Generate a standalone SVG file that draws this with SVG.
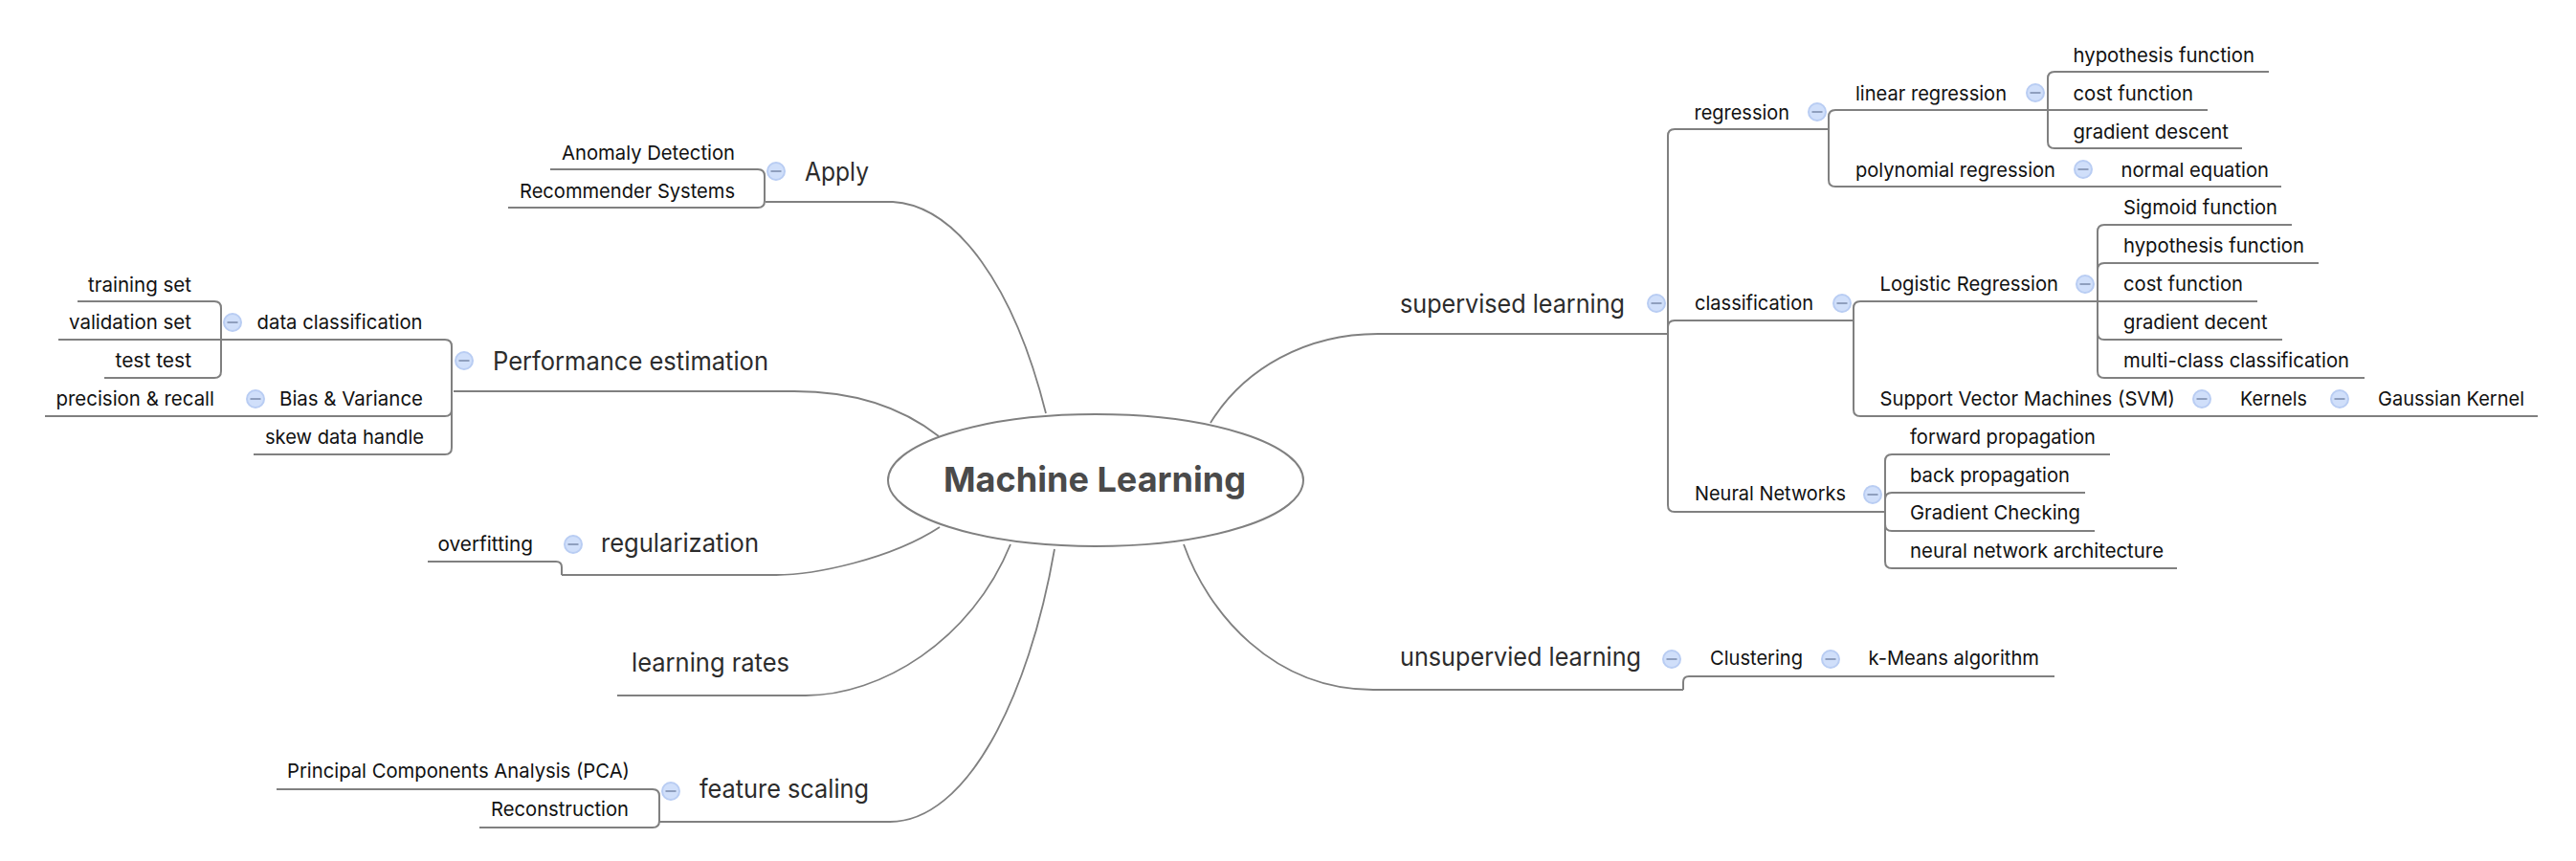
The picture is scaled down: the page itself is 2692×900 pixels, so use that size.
<svg xmlns="http://www.w3.org/2000/svg" width="2692" height="900" viewBox="0 0 2692 900">
<style>
text{font-family:"Inter","Liberation Sans",sans-serif}
.s{font-size:20.500px;fill:#111;transform:translateY(.7px)}
.m{font-size:26.500px;fill:#2c2c2c;transform:translateY(.7px)}
.c{font-size:36px;font-weight:700;fill:#4a4a4a}
.l{fill:none;stroke:#808080;stroke-width:2}
.k{fill:none;stroke:#808080;stroke-width:1.800}
.e{fill:#fff;stroke:#808080;stroke-width:2}
</style>
<defs>
<g id="fold"><circle r="9" fill="#d0dffa" stroke="#b9cdf3" stroke-width="2"/><path d="M-5.500 0H5.500" stroke="#8f9fbe" stroke-width="2"/></g>
</defs>
<g id="connectors">
<path class="k" d="M1093 432C1060 300 1000 215 933 211H800"/>
<path class="k" d="M981 456C935 420 880 409 830 409H474"/>
<path class="k" d="M982 551C930 585 850 601 811 601H587"/>
<path class="k" d="M1056 569C1015 670 920 727 842 727H645"/>
<path class="k" d="M1102 574C1075 730 1010 859 930 859H689"/>
<path class="k" d="M1265 442C1300 385 1365 349 1440 349H1743"/>
<path class="k" d="M1237 569C1262 640 1330 721 1435 721H1759"/>
<path class="l" d="M575 177H792Q799 177 799 184V210Q799 217 792 217H531"/>
<path class="l" d="M81 315H224Q231 315 231 322V388Q231 395 224 395H109"/>
<path class="l" d="M61 355H465Q472 355 472 362V468Q472 475 465 475H265"/>
<path class="l" d="M47 435H465Q472 435 472 428"/>
<path class="l" d="M447 587H581Q587 587 587 593V601"/>
<path class="l" d="M289 825H682Q689 825 689 832V858Q689 865 682 865H501"/>
<path class="l" d="M1910.700 135H1750Q1743 135 1743 142V528Q1743 535 1750 535H1970"/>
<path class="l" d="M1937 335H1750Q1743 335 1743 342"/>
<path class="l" d="M2307 115H1918Q1911 115 1911 122V188Q1911 195 1918 195H2384"/>
<path class="l" d="M2371 75H2147Q2140 75 2140 82V148Q2140 155 2147 155H2343"/>
<path class="l" d="M2359 315H1944Q1937 315 1937 322V428Q1937 435 1944 435H2652"/>
<path class="l" d="M2395 235H2199Q2192 235 2192 242V388Q2192 395 2199 395H2471"/>
<path class="l" d="M2423 275H2199Q2192 275 2192 282"/>
<path class="l" d="M2385 355H2199Q2192 355 2192 348"/>
<path class="l" d="M2205 475H1977Q1970 475 1970 482V587Q1970 594 1977 594H2275"/>
<path class="l" d="M2179 515H1977Q1970 515 1970 522"/>
<path class="l" d="M2189 555H1977Q1970 555 1970 548"/>
<path class="l" d="M1759 721V713Q1759 707 1765 707H2147"/>
</g>
<g id="root"><ellipse class="e" cx="1145" cy="502" rx="217" ry="69"/><text class="c" x="986" y="514" textLength="316" lengthAdjust="spacingAndGlyphs">Machine Learning</text></g>
<g id="apply"><use href="#fold" x="811" y="179"/><text class="m" x="841" y="188" textLength="67" lengthAdjust="spacingAndGlyphs">Apply</text></g>
<g id="anomaly"><text class="s" x="587" y="166" textLength="181" lengthAdjust="spacingAndGlyphs">Anomaly Detection</text></g>
<g id="recommender"><text class="s" x="543" y="206" textLength="225" lengthAdjust="spacingAndGlyphs">Recommender Systems</text></g>
<g id="performance"><use href="#fold" x="485" y="377"/><text class="m" x="515" y="386" textLength="288" lengthAdjust="spacingAndGlyphs">Performance estimation</text></g>
<g id="data-classification"><use href="#fold" x="243" y="337"/><text class="s" x="268.600" y="343" textLength="173" lengthAdjust="spacingAndGlyphs">data classification</text></g>
<g id="training"><text class="s" x="92" y="304" textLength="108" lengthAdjust="spacingAndGlyphs">training set</text></g>
<g id="validation"><text class="s" x="72" y="343" textLength="128" lengthAdjust="spacingAndGlyphs">validation set</text></g>
<g id="test"><text class="s" x="120.500" y="383" textLength="79.500" lengthAdjust="spacingAndGlyphs">test test</text></g>
<g id="bias"><use href="#fold" x="267" y="417"/><text class="s" x="292" y="423" textLength="150" lengthAdjust="spacingAndGlyphs">Bias &amp; Variance</text></g>
<g id="precision"><text class="s" x="58.500" y="423" textLength="165.500" lengthAdjust="spacingAndGlyphs">precision &amp; recall</text></g>
<g id="skew"><text class="s" x="277" y="463" textLength="166" lengthAdjust="spacingAndGlyphs">skew data handle</text></g>
<g id="regularization"><use href="#fold" x="599" y="569"/><text class="m" x="628" y="576" textLength="165" lengthAdjust="spacingAndGlyphs">regularization</text></g>
<g id="overfitting"><text class="s" x="457.500" y="575" textLength="99.500" lengthAdjust="spacingAndGlyphs">overfitting</text></g>
<g id="learning-rates"><text class="m" x="660" y="701" textLength="165" lengthAdjust="spacingAndGlyphs">learning rates</text></g>
<g id="feature-scaling"><use href="#fold" x="701" y="827"/><text class="m" x="731" y="833" textLength="177" lengthAdjust="spacingAndGlyphs">feature scaling</text></g>
<g id="pca"><text class="s" x="300" y="812" textLength="358" lengthAdjust="spacingAndGlyphs">Principal Components Analysis (PCA)</text></g>
<g id="reconstruction"><text class="s" x="513" y="852" textLength="144" lengthAdjust="spacingAndGlyphs">Reconstruction</text></g>
<g id="supervised"><use href="#fold" x="1731" y="317"/><text class="m" x="1463" y="326" textLength="235" lengthAdjust="spacingAndGlyphs">supervised learning</text></g>
<g id="regression"><use href="#fold" x="1899" y="117"/><text class="s" x="1770.500" y="124" textLength="99.500" lengthAdjust="spacingAndGlyphs">regression</text></g>
<g id="linear"><use href="#fold" x="2127" y="97"/><text class="s" x="1939" y="104" textLength="158" lengthAdjust="spacingAndGlyphs">linear regression</text></g>
<g id="hypothesis1"><text class="s" x="2166.500" y="64" textLength="189.500" lengthAdjust="spacingAndGlyphs">hypothesis function</text></g>
<g id="cost1"><text class="s" x="2166.500" y="104" textLength="125.500" lengthAdjust="spacingAndGlyphs">cost function</text></g>
<g id="gradient-descent"><text class="s" x="2166.500" y="144" textLength="162.500" lengthAdjust="spacingAndGlyphs">gradient descent</text></g>
<g id="polynomial"><use href="#fold" x="2177" y="177"/><text class="s" x="1939" y="184" textLength="209" lengthAdjust="spacingAndGlyphs">polynomial regression</text></g>
<g id="normal"><text class="s" x="2216.500" y="184" textLength="154.500" lengthAdjust="spacingAndGlyphs">normal equation</text></g>
<g id="classification"><use href="#fold" x="1925" y="317"/><text class="s" x="1771" y="323" textLength="124" lengthAdjust="spacingAndGlyphs">classification</text></g>
<g id="logistic"><use href="#fold" x="2179" y="297"/><text class="s" x="1964.500" y="303" textLength="186.500" lengthAdjust="spacingAndGlyphs">Logistic Regression</text></g>
<g id="sigmoid"><text class="s" x="2219" y="223" textLength="161" lengthAdjust="spacingAndGlyphs">Sigmoid function</text></g>
<g id="hypothesis2"><text class="s" x="2219" y="263" textLength="189" lengthAdjust="spacingAndGlyphs">hypothesis function</text></g>
<g id="cost2"><text class="s" x="2219" y="303" textLength="125" lengthAdjust="spacingAndGlyphs">cost function</text></g>
<g id="gradient-decent"><text class="s" x="2219" y="343" textLength="150.500" lengthAdjust="spacingAndGlyphs">gradient decent</text></g>
<g id="multi-class"><text class="s" x="2219" y="383" textLength="236" lengthAdjust="spacingAndGlyphs">multi-class classification</text></g>
<g id="svm"><use href="#fold" x="2301" y="417"/><text class="s" x="1964.500" y="423" textLength="308.500" lengthAdjust="spacingAndGlyphs">Support Vector Machines (SVM)</text></g>
<g id="kernels"><use href="#fold" x="2445" y="417"/><text class="s" x="2341" y="423" textLength="70" lengthAdjust="spacingAndGlyphs">Kernels</text></g>
<g id="gaussian"><text class="s" x="2485" y="423" textLength="153" lengthAdjust="spacingAndGlyphs">Gaussian Kernel</text></g>
<g id="neural"><use href="#fold" x="1957" y="517"/><text class="s" x="1771" y="522" textLength="158" lengthAdjust="spacingAndGlyphs">Neural Networks</text></g>
<g id="forward"><text class="s" x="1996" y="463" textLength="194" lengthAdjust="spacingAndGlyphs">forward propagation</text></g>
<g id="back"><text class="s" x="1996" y="503" textLength="167" lengthAdjust="spacingAndGlyphs">back propagation</text></g>
<g id="gradient-checking"><text class="s" x="1996" y="542" textLength="178" lengthAdjust="spacingAndGlyphs">Gradient Checking</text></g>
<g id="architecture"><text class="s" x="1996" y="582" textLength="265" lengthAdjust="spacingAndGlyphs">neural network architecture</text></g>
<g id="unsupervised"><use href="#fold" x="1747" y="689"/><text class="m" x="1463" y="695" textLength="252" lengthAdjust="spacingAndGlyphs">unsupervied learning</text></g>
<g id="clustering"><use href="#fold" x="1913" y="689"/><text class="s" x="1787" y="694" textLength="97" lengthAdjust="spacingAndGlyphs">Clustering</text></g>
<g id="kmeans"><text class="s" x="1952.500" y="694" textLength="178.500" lengthAdjust="spacingAndGlyphs">k-Means algorithm</text></g>
</svg>
